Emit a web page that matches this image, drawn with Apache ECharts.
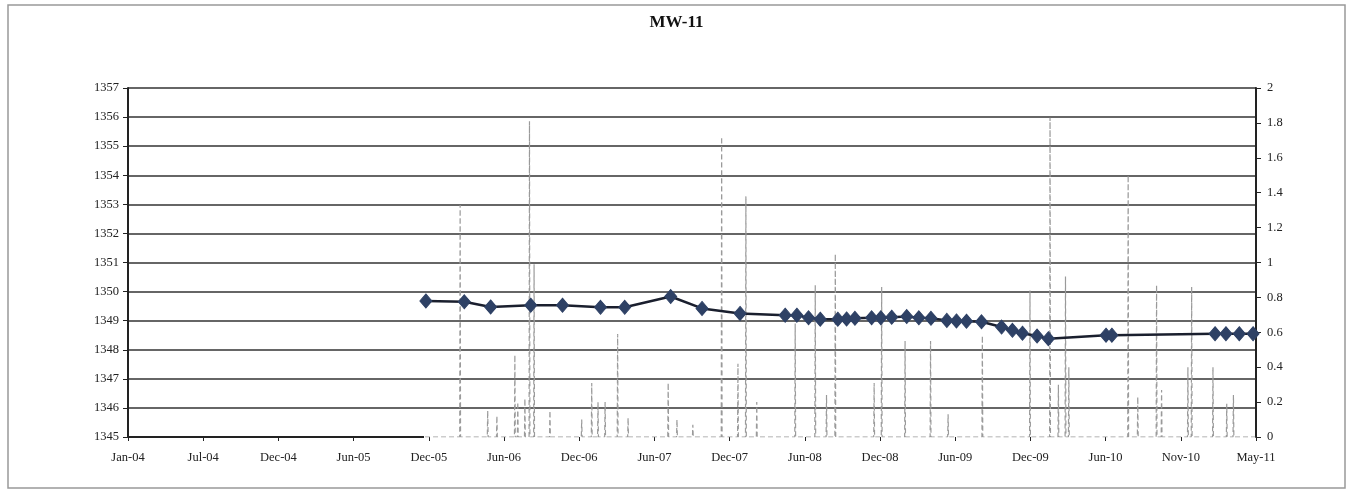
<!DOCTYPE html>
<html>
<head>
<meta charset="utf-8">
<script src="https://cdn.jsdelivr.net/npm/echarts@6/dist/echarts.min.js"></script>
<style>html,body{margin:0;padding:0;background:#fff;}#c{width:1353px;height:499px;}</style>
</head>
<body>
<div id="c"></div>
<script>
// ---- data ----
var axisStart = '2004-01-04';
var xTickIntervalDays = 180;
var xTickCount = 15;
var months = ['Jan','Feb','Mar','Apr','May','Jun','Jul','Aug','Sep','Oct','Nov','Dec'];

var levelDates = ['2005-12-17','2006-03-19','2006-05-21','2006-08-25','2006-11-09','2007-02-08','2007-04-07','2007-07-26','2007-10-09','2008-01-08','2008-04-25','2008-05-23','2008-06-20','2008-07-18','2008-08-29','2008-09-19','2008-10-09','2008-11-18','2008-12-10','2009-01-05','2009-02-10','2009-03-11','2009-04-09','2009-05-17','2009-06-09','2009-07-03','2009-08-08','2009-09-25','2009-10-21','2009-11-14','2009-12-19','2010-01-15','2010-06-02','2010-06-16','2011-02-18','2011-03-16','2011-04-17','2011-05-20'];
var levelValues = [1349.68,1349.65,1349.47,1349.53,1349.53,1349.46,1349.46,1349.83,1349.42,1349.25,1349.19,1349.19,1349.10,1349.05,1349.05,1349.06,1349.08,1349.10,1349.10,1349.12,1349.14,1349.10,1349.08,1349.01,1348.99,1348.98,1348.96,1348.78,1348.67,1348.57,1348.47,1348.38,1348.50,1348.50,1348.55,1348.55,1348.55,1348.55];

var precipStart = '2005-12-15';
var precipEnd = '2011-05-25';
var precipDates = ['2006-03-09','2006-05-14','2006-06-05','2006-07-18','2006-07-25','2006-08-11','2006-08-22','2006-09-02','2006-10-10','2006-12-25','2007-01-18','2007-02-02','2007-02-19','2007-03-21','2007-04-15','2007-07-20','2007-08-10','2007-09-17','2007-11-25','2008-01-03','2008-01-22','2008-02-17','2008-05-19','2008-07-06','2008-08-02','2008-08-23','2008-11-24','2008-12-12','2009-02-06','2009-04-08','2009-05-20','2009-08-10','2009-12-02','2010-01-19','2010-02-08','2010-02-25','2010-03-05','2010-07-25','2010-08-17','2010-10-01','2010-10-13','2010-12-15','2010-12-24','2011-02-13','2011-03-18','2011-04-03'];
var precipValues = [1.33,0.15,0.12,0.47,0.20,0.22,1.81,0.99,0.15,0.10,0.31,0.20,0.20,0.59,0.11,0.31,0.10,0.07,1.72,0.42,1.38,0.20,0.65,0.87,0.24,1.05,0.31,0.86,0.55,0.55,0.13,0.58,0.84,1.83,0.30,0.92,0.40,1.50,0.23,0.87,0.27,0.40,0.86,0.40,0.19,0.24];

// ---- helpers ----
var p0=axisStart.split('-');var dayNum0=Date.UTC(+p0[0],+p0[1]-1,+p0[2]);
function dayNum(s){var p=s.split('-');return (Date.UTC(+p[0],+p[1]-1,+p[2])-dayNum0)/86400000;}
function fmt(v){var d=new Date(dayNum0+v*86400000);var y=String(d.getUTCFullYear()).slice(2);return months[d.getUTCMonth()]+'-'+y;}

var levelData = levelDates.map(function(d,i){return [dayNum(d), levelValues[i]];});
var precipData = [[dayNum(precipStart),0]];
precipDates.forEach(function(d,i){var x=dayNum(d);precipData.push([x-1,0],[x,precipValues[i]],[x+1,0]);});
precipData.push([dayNum(precipEnd),0]);

var xMax = xTickIntervalDays*xTickCount;
var solidFrac = dayNum(precipStart)/xMax;

var chart = echarts.init(document.getElementById('c'));
var font = 'Liberation Serif';
chart.setOption({
  animation:false,
  backgroundColor:'#fff',
  title:{text:'MW-11',left:'center',top:9,textStyle:{fontFamily:font,fontWeight:'bold',fontSize:17,color:'#111'}},
  grid:{left:128,right:97,top:88,bottom:62},
  graphic:[{type:'rect',shape:{x:8,y:5,width:1337,height:483},style:{fill:'none',stroke:'#999',lineWidth:1.5},silent:true,z:-1}],
  xAxis:{type:'value',min:0,max:xMax,interval:xTickIntervalDays,
    axisLine:{show:true,lineStyle:{width:2,color:new echarts.graphic.LinearGradient(0,0,1,0,[{offset:0,color:'#222'},{offset:solidFrac,color:'#222'},{offset:solidFrac+0.0001,color:'rgba(0,0,0,0)'},{offset:1,color:'rgba(0,0,0,0)'}])}},
    axisTick:{show:true,length:4,lineStyle:{color:'#222'}},
    splitLine:{show:false},
    axisLabel:{formatter:fmt,fontFamily:font,fontSize:12.5,color:'#222',margin:14}},
  yAxis:[
    {type:'value',min:1345,max:1357,interval:1,
      axisLine:{show:true,lineStyle:{color:'#222',width:2}},
      axisTick:{show:true,inside:false,length:5,lineStyle:{color:'#222'}},
      splitLine:{show:true,showMinLine:false,lineStyle:{color:'#333',width:1.5}},
      axisLabel:{fontFamily:font,fontSize:12.5,color:'#222',margin:9,formatter:function(v){return String(v);}}},
    {type:'value',min:0,max:2,interval:0.2,position:'right',
      axisLine:{show:true,lineStyle:{color:'#222',width:2}},
      axisTick:{show:true,length:5,lineStyle:{color:'#222'}},
      splitLine:{show:false},
      axisLabel:{fontFamily:font,fontSize:12.5,color:'#222',margin:11,formatter:function(v){return String(Math.round(v*10)/10);}}}
  ],
  series:[
    {type:'line',name:'Precip',yAxisIndex:1,data:precipData,showSymbol:false,symbol:'none',
      lineStyle:{color:'#9a9a9a',width:1.2,type:[5,3]},z:2},
    {type:'line',name:'Level',yAxisIndex:0,data:levelData,symbol:'diamond',symbolSize:[12,14],
      itemStyle:{color:'#2e4165',borderColor:'#2e4165'},lineStyle:{color:'#1a1f2e',width:2.5},z:3}
  ]
});
</script>
</body>
</html>
